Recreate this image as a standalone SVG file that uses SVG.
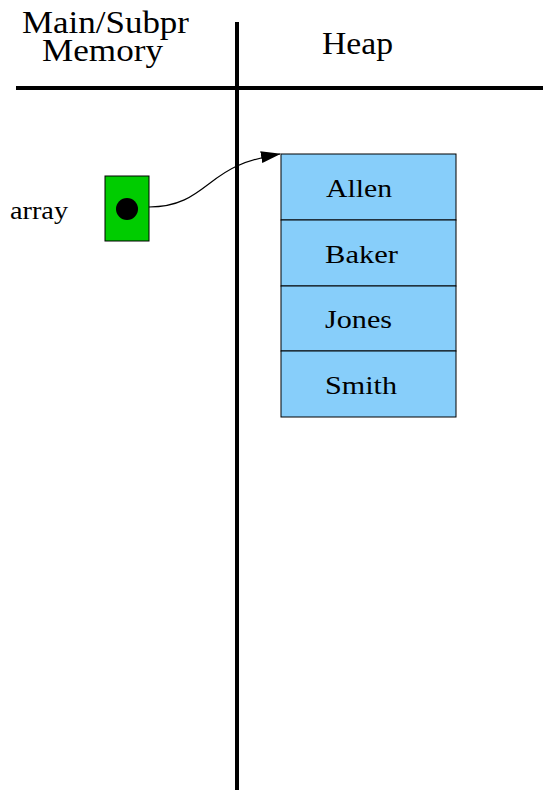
<svg xmlns="http://www.w3.org/2000/svg" width="546" height="795" viewBox="0 0 546 795">
  <style>
    .t { font-family: 'Liberation Serif', 'DejaVu Serif', serif; fill: #000; }
    .head { font-size: 31px; }
    .name { font-size: 25px; }
    .rule { stroke: #000; stroke-width: 4; fill: none; }
    .cell { fill: #87cefa; stroke: #000; stroke-width: 1; }
  </style>
  <defs>
    <marker id="arrow" markerWidth="20" markerHeight="12" refX="19" refY="6" orient="auto" markerUnits="userSpaceOnUse">
      <path d="M0,0 L20,6 L0,12 z" fill="#000"/>
    </marker>
  </defs>

  <rect width="546" height="795" fill="#fff"/>

  <!-- column headings and dividing rules -->
  <g id="headings">
    <text class="t head" x="22" y="33" textLength="167" lengthAdjust="spacingAndGlyphs">Main/Subpr</text>
    <text class="t head" x="42" y="61" textLength="121" lengthAdjust="spacingAndGlyphs">Memory</text>
    <text class="t head" x="322" y="54" textLength="71" lengthAdjust="spacingAndGlyphs">Heap</text>
    <line class="rule" x1="16" y1="88" x2="543" y2="88"/>
    <line class="rule" x1="237" y1="22" x2="237" y2="790"/>
  </g>

  <!-- pointer variable -->
  <g id="array-var">
    <text class="t name" x="10" y="219" textLength="58" lengthAdjust="spacingAndGlyphs">array</text>
    <rect x="105" y="176" width="44" height="65" fill="#00cc00" stroke="#000" stroke-width="1"/>
    <circle cx="127" cy="209" r="11" fill="#000"/>
  </g>

  <!-- heap array of names -->
  <g id="heap-array">
    <rect class="cell" x="281" y="154" width="175" height="66"/>
    <rect class="cell" x="281" y="220" width="175" height="66"/>
    <rect class="cell" x="281" y="286" width="175" height="65"/>
    <rect class="cell" x="281" y="351" width="175" height="66"/>
    <text class="t name" x="326" y="197" textLength="66" lengthAdjust="spacingAndGlyphs">Allen</text>
    <text class="t name" x="325" y="263" textLength="73" lengthAdjust="spacingAndGlyphs">Baker</text>
    <text class="t name" x="325" y="328" textLength="67" lengthAdjust="spacingAndGlyphs">Jones</text>
    <text class="t name" x="325" y="394" textLength="72" lengthAdjust="spacingAndGlyphs">Smith</text>
  </g>

  <!-- reference arrow -->
  <g id="connectors">
    <path d="M149,207 C195,207 205,180 237,166 C250,160 262,157 280,154" fill="none" stroke="#000" stroke-width="1.2" marker-end="url(#arrow)"/>
  </g>
</svg>
